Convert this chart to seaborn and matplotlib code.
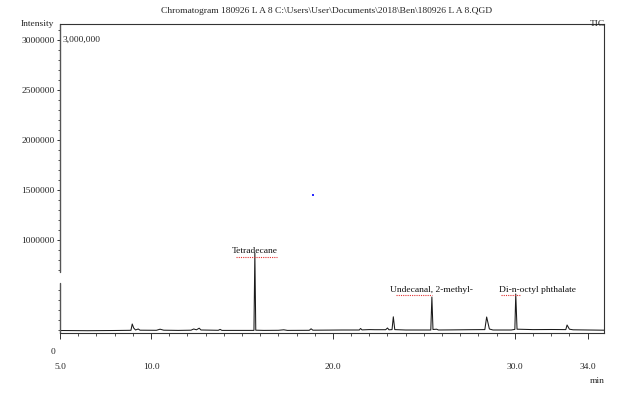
import matplotlib
matplotlib.use("Agg")
import matplotlib.pyplot as plt
import seaborn as sns
import pandas as pd
import numpy as np

# ---------------- data ----------------
retention_time = [5.0, 6.5, 8.0, 8.9, 8.97, 9.05, 9.15, 9.3, 9.4, 10.3, 10.5, 10.7,
                  11.5, 12.2, 12.35, 12.5, 12.65, 12.75, 13.7, 13.8, 13.9, 15.66,
                  15.71, 15.76, 16.2, 17.0, 17.3, 17.5, 18.7, 18.8, 18.9, 19.8, 20.5,
                  21.45, 21.52, 21.6, 22.0, 22.3, 22.9, 23.0, 23.08, 23.25, 23.32,
                  23.4, 24.0, 25.38, 25.44, 25.5, 25.7, 25.8, 26.5, 27.5, 28.35,
                  28.45, 28.6, 28.8, 29.8, 30.0, 30.05, 30.12, 31.0, 32.0, 32.8,
                  32.87, 33.0, 33.2, 34.9]
intensity = [95000, 93000, 95000, 97000, 160000, 120000, 100000, 110000, 98000, 97000,
             108000, 98000, 96000, 98000, 110000, 102000, 118000, 100000, 97000, 106000,
             96000, 96000, 870000, 98000, 96000, 97000, 102000, 96000, 97000, 112000,
             98000, 99000, 100000, 100000, 115000, 101000, 104000, 103000, 103000,
             120000, 102000, 104000, 232000, 104000, 100000, 100000, 430000, 105000,
             108000, 100000, 101000, 103000, 104000, 230000, 110000, 100000, 100000,
             106000, 460000, 108000, 104000, 105000, 104000, 150000, 108000, 102000,
             98000]

peak_names = ["Tetradecane", "Undecanal, 2-methyl-", "Di-n-octyl phthalate"]
peak_rt = [15.71, 25.44, 30.05]
peak_int = [870000, 430000, 460000]

marker_rt = [18.90]
marker_int = [1450000]

y_major = [1000000, 1500000, 2000000, 2500000, 3000000]
x_major = [5.0, 10.0, 20.0, 30.0, 34.0]
x_labels = ["5.0", "10.0", "20.0", "30.0", "34.0"]

title = r"Chromatogram 180926 L A 8 C:\Users\User\Documents\2018\Ben\180926 L A 8.QGD"

# ---------------- drawing ----------------
sns.set_theme(style="white")
plt.rcParams["font.family"] = ["Liberation Serif", "DejaVu Serif"]
FS = 6.8

W, H = 628, 394
fig = plt.figure(figsize=(W / 100, H / 100), dpi=100)
ax = fig.add_axes([60 / W, (H - 332.5) / H, 544 / W, (332.5 - 24) / H])

df = pd.DataFrame({"t": retention_time, "i": intensity})
sns.lineplot(data=df, x="t", y="i", ax=ax, color="#1a1a1a", linewidth=0.75,
             estimator=None, sort=False)
sns.scatterplot(x=marker_rt, y=marker_int, ax=ax, color="#2b2bff", marker="s",
                s=3, linewidth=0)

ylo, yhi = 75000, 3160000
ax.set_xlim(5.0, 34.9)
ax.set_ylim(ylo, yhi)
ax.set_xlabel("")
ax.set_ylabel("")

# ticks
ax.set_xticks(x_major)
ax.set_xticklabels(x_labels, fontsize=FS)
ax.set_xticks(np.arange(6, 35, 1.0), minor=True)
ax.set_yticks(y_major)
ax.set_yticklabels([str(v) for v in y_major], fontsize=FS)
ymin_ticks = [v for v in range(100000, 3160000, 100000) if v not in y_major and v != 600000]
ax.set_yticks(ymin_ticks, minor=True)
ax.tick_params(axis="x", which="major", direction="out", length=4, width=0.7,
               color="#333333", pad=18, bottom=True)
ax.tick_params(axis="x", which="minor", direction="out", length=2.2, width=0.6,
               color="#333333", bottom=True)
ax.tick_params(axis="y", which="major", direction="out", length=2.5, width=0.7,
               color="#333333", pad=1.5, left=True)
ax.tick_params(axis="y", which="minor", direction="out", length=1.8, width=0.6,
               color="#333333", left=True)

# spines
for s in ["top", "right", "bottom"]:
    ax.spines[s].set_visible(True)
    ax.spines[s].set_color("#333333")
    ax.spines[s].set_linewidth(0.8)
ax.spines["left"].set_visible(False)
brk_hi = (680000 - ylo) / (yhi - ylo)
brk_lo = (570000 - ylo) / (yhi - ylo)
ax.plot([0, 0], [brk_hi, 1], transform=ax.transAxes, color="#555555", lw=1.0, clip_on=False)
ax.plot([0, 0], [0, brk_lo], transform=ax.transAxes, color="#555555", lw=1.0, clip_on=False)

# peak labels
offsets = [(0, -1.5), (0, 2.3), (-12, 0.3)]
has = ["center", "center", "left"]
ul = [(-1.05, 1.2), (-1.95, 0.0), (-0.8, 0.3)]
for name, t, v, off, ha, u in zip(peak_names, peak_rt, peak_int, offsets, has, ul):
    ax.annotate(name, xy=(t, v), xytext=off, textcoords="offset points",
                ha=ha, va="bottom", fontsize=FS, color="#111111")
    yy = v + off[1] * 10000 / 0.72 - 15000
    ax.plot([t + u[0], t + u[1]], [yy, yy], color="#e03030", lw=0.8,
            linestyle=(0, (1, 1)))

# figure texts
fig.text(327 / W, 1 - 11 / H, title, ha="center", va="center", fontsize=FS)
fig.text(37 / W, 1 - 24 / H, "Intensity", ha="center", va="center", fontsize=FS)
fig.text(597 / W, 1 - 24 / H, "TIC", ha="center", va="center", fontsize=FS)
fig.text(63 / W, 1 - 40 / H, "3,000,000", ha="left", va="center", fontsize=FS)
fig.text(53 / W, 1 - 352 / H, "0", ha="center", va="center", fontsize=FS)
fig.text(597 / W, 1 - 381 / H, "min", ha="center", va="center", fontsize=FS)

fig.savefig("out.png", dpi=100)
